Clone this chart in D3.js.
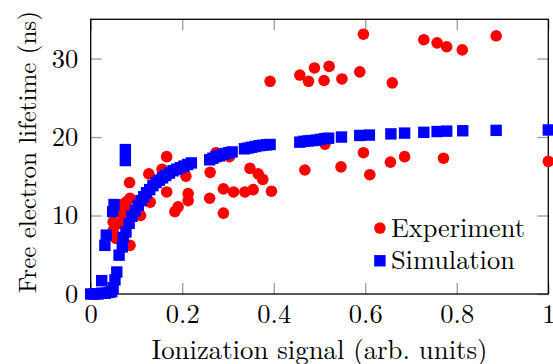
<!DOCTYPE html>
<html><head><meta charset="utf-8">
<script src="https://cdn.jsdelivr.net/npm/d3@7"></script>
<style>
html,body{margin:0;padding:0;background:#fff;}
svg{display:block;}
</style></head>
<body>
<svg id="chart" width="553" height="364"></svg>
<script>
// ---- data ----
const expX = [0.000,0.049,0.049,0.055,0.064,0.068,0.073,0.072,0.080,0.086,0.085,0.086,0.109,0.127,0.130,0.156,0.166,0.166,0.184,0.191,0.208,0.213,0.213,0.261,0.260,0.274,0.290,0.290,0.303,0.312,0.337,0.348,0.355,0.366,0.376,0.395,0.392,0.457,0.468,0.476,0.489,0.510,0.512,0.521,0.547,0.549,0.588,0.596,0.596,0.610,0.655,0.659,0.686,0.728,0.757,0.771,0.778,0.812,0.886,1.000];
const expY = [0.0,9.2,8.1,7.1,9.0,10.3,10.8,11.5,11.8,12.2,14.2,6.2,10.0,15.3,11.7,15.9,17.5,13.0,10.5,11.1,15.0,12.8,11.9,15.5,12.2,18.0,13.4,10.3,17.5,13.0,13.0,16.0,13.3,15.3,14.6,13.1,27.1,27.9,15.8,27.1,28.8,27.2,19.1,29.0,16.2,27.4,28.3,33.1,18.0,15.2,16.8,26.9,17.5,32.4,32.0,17.3,31.5,31.1,32.9,16.9];

const simX = [0.000,0.008,0.016,0.024,0.032,0.040,0.046,0.024,0.049,0.053,0.057,0.062,0.031,0.034,0.069,0.071,0.048,0.051,0.0757,0.0757,
  0.077,0.084,0.090,0.097,0.104,0.110,0.116,0.122,0.129,0.136,0.143,0.150,0.157,0.164,0.172,0.180,0.188,0.196,0.204,0.212,0.220,
  0.260,0.267,0.274,0.281,0.288,0.295,0.302,0.309,
  0.336,0.344,0.352,0.360,0.368,0.376,0.384,0.392,
  0.457,0.466,0.475,0.484,0.493,0.502,0.511,0.520,
  0.548,0.588,0.609,0.656,0.686,0.728,0.757,0.778,0.813,0.886,1.000];
const simY = [0.0,0.0,0.0,0.1,0.1,0.2,0.3,1.7,0.8,1.8,2.8,4.95,6.2,7.5,6.0,7.2,10.5,11.4,17.0,18.4,
  7.9,9.0,9.9,10.6,11.3,11.9,12.4,12.9,13.3,13.8,14.2,14.5,14.8,15.1,15.4,15.7,15.9,16.1,16.3,16.5,16.7,
  17.1,17.3,17.5,17.6,17.8,17.9,18.0,18.1,
  18.5,18.6,18.7,18.8,18.9,18.95,19.0,19.05,
  19.35,19.45,19.5,19.55,19.6,19.7,19.8,19.85,
  20.0,20.2,20.25,20.4,20.5,20.6,20.7,20.75,20.8,20.85,20.9];

const xTicks = [0, 0.2, 0.4, 0.6, 0.8, 1];
const xTickLabels = ["0", "0.2", "0.4", "0.6", "0.8", "1"];
const yTicks = [0, 10, 20, 30];
const yTickLabels = ["0", "10", "20", "30"];
const seriesNames = ["Experiment", "Simulation"];
const xTitle = "Ionization signal (arb. units)";
const yTitle = "Free electron lifetime (ns)";

// ---- layout ----
const L = 90.7, R = 548.3, T = 19.3, B = 294;
const FONT = '"Latin Modern Roman", "Liberation Serif", serif';
const svg = d3.select("#chart");
const x = d3.scaleLinear().domain([0, 1]).range([L, R]);
const y = d3.scaleLinear().domain([0, 35]).range([B, T]);
const tickLen = 11, tickColor = "#9a9a9a";

function fit(sel, target, base){
  const w = sel.node().getComputedTextLength();
  if (w > 0) sel.style("font-size", (base * target / w).toFixed(2) + "px");
  return sel;
}

function styleAxis(g){
  g.select(".domain").remove();
  g.attr("font-family", null).attr("font-size", null);
  g.selectAll(".tick line").attr("stroke", tickColor).attr("stroke-width", 1.3);
  g.selectAll(".tick text").attr("fill", "#000").style("font-family", FONT).style("font-size", "26.5px");
}

svg.append("g").attr("transform", `translate(0,${B})`)
  .call(d3.axisBottom(x).tickValues(xTicks).tickFormat((d,i)=>xTickLabels[i]).tickSizeInner(-tickLen).tickSizeOuter(0).tickPadding(10))
  .call(styleAxis);
svg.append("g").attr("transform", `translate(0,${T})`)
  .call(d3.axisTop(x).tickValues(xTicks).tickFormat("").tickSizeInner(-tickLen).tickSizeOuter(0))
  .call(styleAxis);
svg.append("g").attr("transform", `translate(${L},0)`)
  .call(d3.axisLeft(y).tickValues(yTicks).tickFormat((d,i)=>yTickLabels[i]).tickSizeInner(-tickLen).tickSizeOuter(0).tickPadding(12.5))
  .call(styleAxis);
svg.append("g").attr("transform", `translate(${R},0)`)
  .call(d3.axisRight(y).tickValues(yTicks).tickFormat("").tickSizeInner(-tickLen).tickSizeOuter(0))
  .call(styleAxis);

// frame
svg.append("rect").attr("x", L).attr("y", T).attr("width", R - L).attr("height", B - T)
  .attr("fill", "none").attr("stroke", "#000").attr("stroke-width", 1.3);

// marks
const r = 5.8, s = 11.4;
const expData = expX.map((v,i)=>({x:v, y:expY[i]}));
const simData = simX.map((v,i)=>({x:v, y:simY[i]}));
svg.append("g").selectAll("circle").data(expData).join("circle")
  .attr("cx", d=>x(d.x)).attr("cy", d=>y(d.y)).attr("r", r).attr("fill", "#ff0000");
svg.append("g").selectAll("rect").data(simData).join("rect")
  .attr("x", d=>x(d.x)-s/2).attr("y", d=>y(d.y)-s/2).attr("width", s).attr("height", s).attr("fill", "#0000ff");

// legend
const lgX = L + (R - L) * 0.632, lgY1 = T + (B - T) * 0.76, lgDY = 32.7;
svg.append("circle").attr("cx", lgX).attr("cy", lgY1).attr("r", r).attr("fill", "#ff0000");
svg.append("rect").attr("x", lgX - s/2).attr("y", lgY1 + lgDY - s/2).attr("width", s).attr("height", s).attr("fill", "#0000ff");
const lgTargets = [134, 124];
seriesNames.forEach((n,i)=>{
  const t = svg.append("text").attr("x", lgX + 11).attr("y", lgY1 + i*lgDY + 8.5)
    .style("font-family", FONT).style("font-size", "26px").text(n);
  fit(t, lgTargets[i], 26);
});

// axis titles
const xt = svg.append("text").attr("x", (L + R)/2).attr("y", 359)
  .attr("text-anchor", "middle").style("font-family", FONT).style("font-size", "27px").text(xTitle);
fit(xt, 336, 27);
const yt = svg.append("text").attr("transform", `translate(36,152) rotate(-90)`)
  .attr("text-anchor", "middle").style("font-family", FONT).style("font-size", "27px").text(yTitle);
fit(yt, 282, 27);
</script>
</body></html>
